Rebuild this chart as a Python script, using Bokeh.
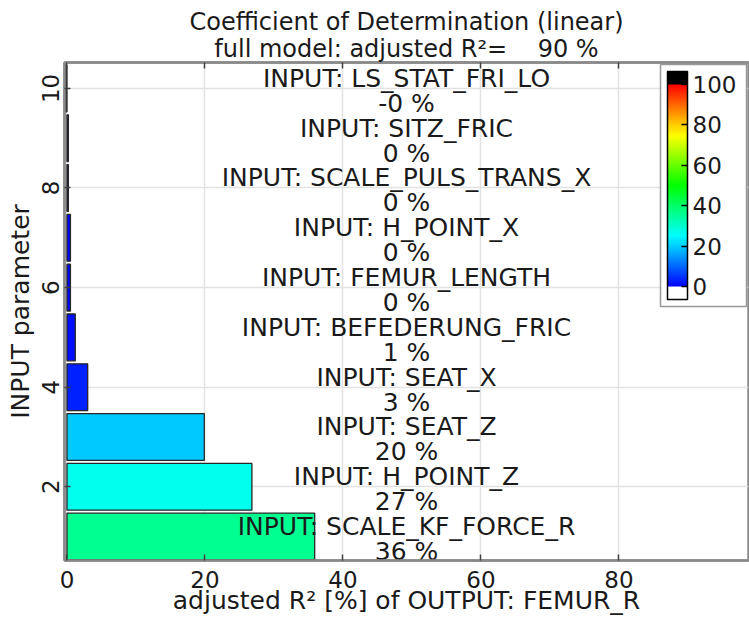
from bokeh.plotting import figure
from bokeh.models import (ColumnDataSource, LinearColorMapper, ColorBar, FixedTicker,
                          LinearAxis, Range1d, Title)
from bokeh.transform import transform
from bokeh.core.properties import value
from bokeh.embed import file_html
from bokeh.resources import INLINE

# ---------------- data ----------------
param_index = [1, 2, 3, 4, 5, 6, 7, 8, 9, 10]
param_names = ["SCALE_KF_FORCE_R", "H_POINT_Z", "SEAT_Z", "SEAT_X", "BEFEDERUNG_FRIC",
               "FEMUR_LENGTH", "H_POINT_X", "SCALE_PULS_TRANS_X", "SITZ_FRIC", "LS_STAT_FRI_LO"]
r2_adjusted = [35.9, 26.8, 19.9, 3.0, 1.2, 0.5, 0.5, 0.2, 0.2, -0.2]
full_model_r2 = 90
output_name = "FEMUR_R"
x_ticks = [0, 20, 40, 60, 80]
y_ticks = [2, 4, 6, 8, 10]
cbar_ticks = [0, 20, 40, 60, 80, 100]

# ---------------- style ----------------
FONT = "DejaVu Sans"
TXT = "#1a1a1a"
X_START, X_END = -0.36, 98.77
Y_START, Y_END = 0.52, 10.52

anchors = [(0, 0, 255), (0, 255, 255), (0, 255, 0), (255, 255, 0), (255, 0, 0)]


def rainbow(n):
    out = []
    for i in range(n):
        t = (i + 0.5) / n * (len(anchors) - 1)
        k = min(int(t), len(anchors) - 2)
        f = t - k
        c = [round(a + (b - a) * f) for a, b in zip(anchors[k], anchors[k + 1])]
        out.append("#%02x%02x%02x" % tuple(c))
    return out


pal = rainbow(200)
bar_mapper = LinearColorMapper(palette=pal, low=0, high=100,
                               low_color="white", high_color="black")
cap = 13
cbar_mapper = LinearColorMapper(palette=["#ffffff"] * cap + pal + ["#000000"] * cap,
                                low=-cap * 0.5, high=100 + cap * 0.5)

x_mid = (X_START + X_END) / 2
src = ColumnDataSource(dict(
    y=param_index,
    r2=r2_adjusted,
    name=["INPUT: " + n for n in param_names],
    pct=[f"{v:.0f} %" for v in r2_adjusted],
    xm=[x_mid] * len(param_index),
))

title_line1 = "Coefficient of Determination (linear)"
title_line2 = "full model: adjusted R²=" + f"{full_model_r2:6.0f}".replace(" ", "\u00a0") + " %"

p = figure(width=749, height=622, output_backend="svg", toolbar_location=None,
           x_range=Range1d(X_START, X_END), y_range=Range1d(Y_START, Y_END),
           min_border_left=64, min_border_right=1, min_border_top=62, min_border_bottom=62,
           title=None)

p.outline_line_color = "#8a8a8a"
p.outline_line_width = 2.5
p.background_fill_color = "white"
p.border_fill_color = "white"

p.hbar(y="y", right="r2", left=0, height=0.94, source=src,
       fill_color=transform("r2", bar_mapper), line_color="#262626", line_width=1.3)

p.text(x="xm", y="y", text="name", source=src, text_align="center",
       text_baseline="alphabetic", y_offset=-10, text_font=value(FONT),
       text_font_size="25px", text_color=TXT)
p.text(x="xm", y="y", text="pct", source=src, text_align="center",
       text_baseline="alphabetic", y_offset=15, text_font=value(FONT),
       text_font_size="25px", text_color=TXT)

# axes
for ax in (p.xaxis[0], p.yaxis[0]):
    ax.axis_line_color = "#8a8a8a"
    ax.axis_line_width = 2.5
    ax.major_tick_in = 6
    ax.major_tick_out = 0
    ax.major_tick_line_color = "#404040"
    ax.major_tick_line_width = 1.5
    ax.minor_tick_line_color = None
    ax.major_label_text_font = FONT
    ax.major_label_text_font_size = "23px"
    ax.major_label_text_color = TXT
    ax.axis_label_text_font = FONT
    ax.axis_label_text_font_size = "25px"
    ax.axis_label_text_font_style = "normal"
    ax.axis_label_text_color = TXT

p.xaxis.ticker = FixedTicker(ticks=x_ticks)
p.yaxis.ticker = FixedTicker(ticks=y_ticks)
p.xaxis.axis_label = f"adjusted R² [%] of OUTPUT: {output_name}"
p.yaxis.axis_label = "INPUT parameter"
p.xaxis.major_label_standoff = 10
p.xaxis.axis_label_standoff = -5
p.yaxis.major_label_orientation = "vertical"
p.yaxis.major_label_standoff = 5
p.yaxis.axis_label_standoff = 5

top = LinearAxis(ticker=FixedTicker(ticks=x_ticks), major_label_text_font_size="1px",
                 major_label_text_color=None,
                 major_label_standoff=0, major_tick_in=6, major_tick_out=0,
                 major_tick_line_color="#404040", major_tick_line_width=1.5,
                 minor_tick_line_color=None, axis_line_color="#8a8a8a", axis_line_width=2.5)
p.add_layout(top, "above")

for txt, so in ((title_line2, 0), (title_line1, -7)):
    p.add_layout(Title(text=txt, align="center", text_font=FONT, text_font_size="24px",
                       text_font_style="normal", text_color=TXT, standoff=so), "above")

p.xgrid.grid_line_color = "#e2e2e2"
p.ygrid.grid_line_color = "#e2e2e2"
p.xgrid.grid_line_width = 1.5
p.ygrid.grid_line_width = 1.5

cb = ColorBar(color_mapper=cbar_mapper, ticker=FixedTicker(ticks=cbar_ticks),
              location="top_right", margin=2, padding=7, width=20, height=228,
              orientation="vertical",
              bar_line_color="black", bar_line_width=1.5,
              border_line_color="#999999", border_line_width=1.5,
              background_fill_color="white", background_fill_alpha=1.0,
              major_tick_in=6, major_tick_out=0, major_tick_line_color="black",
              major_tick_line_width=1.5, minor_tick_line_color=None,
              label_standoff=5, major_label_text_font=FONT,
              major_label_text_font_size="23px", major_label_text_color=TXT)
p.add_layout(cb, "center")

open("out.html", "w").write(file_html(p, INLINE))
